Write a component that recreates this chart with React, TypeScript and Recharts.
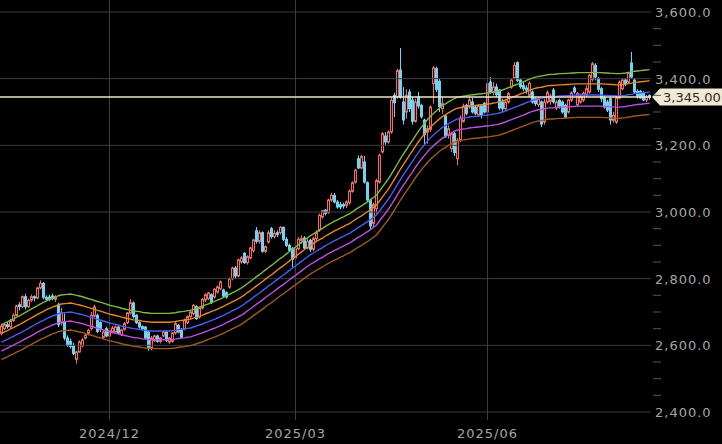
import { ComposedChart, Bar, Line, XAxis, YAxis, ReferenceLine } from "recharts";

// daily candles, oldest first (one per trading day)
const opens = [
  2636, 2650, 2662, 2656, 2674, 2690, 2722, 2716, 2746, 2716, 2735, 2746, 2742, 2772, 2786, 2744, 2745, 2748, 2738, 2721,
  2667, 2670, 2622, 2612, 2600, 2558, 2580, 2598, 2622, 2636, 2650, 2688, 2690, 2668, 2624, 2650, 2628, 2640, 2640, 2655,
  2632, 2648, 2668, 2697, 2727, 2690, 2668, 2656, 2655, 2640, 2592, 2614, 2628, 2612, 2628, 2640, 2610, 2612, 2637, 2660,
  2648, 2650, 2668, 2686, 2695, 2716, 2685, 2712, 2736, 2740, 2752, 2745, 2760, 2770, 2766, 2758, 2775, 2800, 2832, 2808,
  2850, 2876, 2848, 2862, 2884, 2944, 2912, 2938, 2882, 2910, 2950, 2926, 2938, 2938, 2954, 2918, 2900, 2890, 2862, 2890,
  2915, 2922, 2892, 2915, 2888, 2920, 2946, 2985, 3006, 2998, 3036, 3050, 3030, 3022, 3022, 3020, 3028, 3062, 3090, 3160,
  3132, 3150, 3088, 3036, 2966, 3010, 3090, 3180, 3228, 3210, 3240, 3350, 3345, 3426, 3330, 3300, 3360, 3336, 3272, 3345,
  3320, 3276, 3240, 3248, 3385, 3430, 3392, 3310, 3288, 3230, 3190, 3235, 3160, 3216, 3272, 3320, 3315, 3330, 3315, 3292,
  3318, 3326, 3300, 3390, 3360, 3375, 3366, 3330, 3310, 3330, 3375, 3402, 3448, 3396, 3380, 3372, 3350, 3360, 3340, 3322,
  3330, 3270, 3330, 3332, 3366, 3312, 3335, 3330, 3320, 3300, 3336, 3372, 3322, 3330, 3336, 3350, 3360, 3398, 3440, 3400,
  3370, 3342, 3330, 3340, 3275, 3270, 3342, 3370, 3396, 3390, 3447, 3396, 3362, 3362, 3357, 3336, 3350,
];
const highs = [
  2665, 2668, 2670, 2680, 2696, 2722, 2730, 2750, 2755, 2740, 2752, 2750, 2775, 2795, 2790, 2750, 2752, 2755, 2750, 2728,
  2712, 2696, 2630, 2620, 2608, 2584, 2615, 2622, 2635, 2650, 2700, 2722, 2695, 2672, 2645, 2656, 2650, 2658, 2660, 2658,
  2650, 2670, 2700, 2738, 2732, 2694, 2672, 2660, 2658, 2645, 2628, 2632, 2632, 2625, 2644, 2644, 2625, 2640, 2670, 2664,
  2652, 2680, 2690, 2704, 2724, 2720, 2716, 2742, 2756, 2760, 2756, 2772, 2780, 2795, 2770, 2762, 2804, 2836, 2838, 2860,
  2868, 2880, 2870, 2896, 2920, 2955, 2945, 2942, 2900, 2945, 2955, 2945, 2945, 2958, 2956, 2925, 2905, 2895, 2898, 2925,
  2930, 2928, 2920, 2920, 2925, 2945, 2995, 3006, 3008, 3040, 3058, 3057, 3036, 3030, 3028, 3035, 3068, 3092, 3130, 3170,
  3172, 3168, 3092, 3040, 3028, 3100, 3175, 3240, 3240, 3245, 3345, 3358, 3430, 3492, 3375, 3368, 3368, 3345, 3340, 3360,
  3325, 3280, 3260, 3320, 3438, 3436, 3400, 3345, 3292, 3260, 3240, 3240, 3222, 3290, 3325, 3325, 3345, 3342, 3320, 3325,
  3322, 3330, 3390, 3405, 3390, 3385, 3368, 3340, 3335, 3360, 3400, 3450, 3452, 3400, 3392, 3380, 3392, 3365, 3345, 3345,
  3335, 3340, 3365, 3355, 3372, 3335, 3340, 3335, 3325, 3340, 3362, 3378, 3360, 3355, 3362, 3380, 3415, 3450, 3446, 3405,
  3375, 3348, 3336, 3345, 3300, 3348, 3395, 3400, 3402, 3420, 3480, 3400, 3368, 3366, 3362, 3352, 3352,
];
const lows = [
  2630, 2645, 2650, 2652, 2670, 2688, 2705, 2712, 2708, 2712, 2730, 2732, 2738, 2768, 2738, 2732, 2732, 2735, 2730, 2655,
  2660, 2615, 2595, 2590, 2570, 2545, 2578, 2594, 2618, 2630, 2645, 2684, 2636, 2640, 2618, 2624, 2622, 2636, 2635, 2632,
  2628, 2644, 2664, 2692, 2680, 2664, 2650, 2645, 2618, 2584, 2585, 2610, 2608, 2606, 2624, 2610, 2604, 2608, 2632, 2636,
  2620, 2645, 2664, 2680, 2690, 2676, 2680, 2708, 2730, 2736, 2724, 2740, 2755, 2765, 2742, 2740, 2770, 2795, 2800, 2804,
  2845, 2844, 2842, 2858, 2878, 2905, 2905, 2878, 2876, 2905, 2920, 2920, 2925, 2932, 2912, 2895, 2880, 2835, 2856, 2885,
  2905, 2886, 2888, 2880, 2882, 2912, 2940, 2980, 2990, 2995, 3030, 3026, 3010, 3008, 3010, 3012, 3022, 3058, 3085, 3128,
  3128, 3085, 3030, 2946, 2955, 2995, 3085, 3176, 3200, 3205, 3235, 3285, 3340, 3340, 3262, 3280, 3300, 3262, 3268, 3310,
  3280, 3200, 3205, 3240, 3325, 3360, 3300, 3295, 3222, 3220, 3180, 3168, 3140, 3210, 3268, 3290, 3310, 3295, 3290, 3285,
  3280, 3295, 3295, 3355, 3350, 3345, 3305, 3300, 3305, 3325, 3370, 3398, 3390, 3370, 3362, 3355, 3345, 3325, 3318, 3315,
  3255, 3262, 3325, 3322, 3325, 3305, 3310, 3295, 3280, 3295, 3330, 3355, 3315, 3325, 3330, 3345, 3355, 3392, 3395, 3360,
  3330, 3310, 3300, 3262, 3268, 3264, 3338, 3365, 3378, 3385, 3400, 3355, 3340, 3340, 3332, 3330, 3336,
];
const closes = [
  2658, 2662, 2656, 2674, 2690, 2718, 2716, 2746, 2716, 2735, 2746, 2742, 2772, 2786, 2744, 2738, 2738, 2740, 2746, 2662,
  2697, 2622, 2600, 2596, 2575, 2580, 2610, 2616, 2630, 2645, 2690, 2715, 2642, 2648, 2640, 2628, 2645, 2652, 2655, 2637,
  2646, 2665, 2697, 2728, 2686, 2668, 2655, 2650, 2622, 2592, 2622, 2628, 2612, 2622, 2640, 2615, 2622, 2637, 2665, 2640,
  2624, 2676, 2686, 2700, 2720, 2680, 2712, 2738, 2752, 2757, 2728, 2768, 2775, 2790, 2748, 2745, 2800, 2832, 2808, 2856,
  2862, 2848, 2866, 2892, 2916, 2912, 2938, 2882, 2896, 2938, 2926, 2936, 2932, 2954, 2918, 2900, 2885, 2858, 2890, 2918,
  2920, 2892, 2912, 2888, 2920, 2938, 2990, 3004, 2996, 3036, 3050, 3030, 3015, 3015, 3018, 3030, 3062, 3088, 3125, 3132,
  3166, 3090, 3036, 2958, 3022, 3094, 3170, 3235, 3210, 3240, 3335, 3328, 3424, 3345, 3276, 3350, 3310, 3272, 3330, 3318,
  3286, 3232, 3250, 3315, 3432, 3368, 3316, 3325, 3228, 3250, 3235, 3178, 3215, 3282, 3318, 3296, 3336, 3300, 3296, 3318,
  3290, 3300, 3385, 3360, 3375, 3352, 3312, 3310, 3330, 3355, 3396, 3440, 3395, 3376, 3370, 3366, 3386, 3330, 3325, 3340,
  3264, 3330, 3358, 3348, 3330, 3330, 3318, 3300, 3285, 3336, 3357, 3360, 3355, 3348, 3356, 3370, 3410, 3445, 3405, 3368,
  3340, 3315, 3306, 3276, 3290, 3342, 3390, 3396, 3385, 3417, 3405, 3360, 3348, 3342, 3336, 3345, 3345,
];
// centre moving average (blue line)
const maLine = [
  2609, 2614, 2618, 2623, 2627, 2632, 2636, 2641, 2646, 2651, 2656, 2661, 2666, 2671, 2675, 2680, 2684, 2688, 2691, 2695,
  2697, 2698, 2699, 2700, 2698, 2696, 2694, 2692, 2689, 2686, 2684, 2681, 2678, 2676, 2673, 2670, 2667, 2665, 2663, 2661,
  2658, 2656, 2654, 2652, 2650, 2649, 2648, 2646, 2645, 2644, 2643, 2643, 2643, 2643, 2643, 2643, 2643, 2644, 2645, 2647,
  2648, 2649, 2651, 2652, 2655, 2658, 2661, 2664, 2668, 2671, 2675, 2678, 2682, 2686, 2690, 2695, 2699, 2704, 2708, 2713,
  2718, 2724, 2731, 2737, 2744, 2751, 2757, 2764, 2771, 2778, 2784, 2791, 2798, 2805, 2811, 2818, 2825, 2832, 2838, 2845,
  2852, 2859, 2865, 2872, 2877, 2883, 2888, 2893, 2899, 2904, 2909, 2914, 2918, 2923, 2927, 2932, 2936, 2942, 2948, 2954,
  2959, 2965, 2971, 2977, 2984, 2991, 3003, 3015, 3027, 3039, 3053, 3068, 3083, 3098, 3112, 3125, 3139, 3152, 3166, 3179,
  3191, 3202, 3213, 3223, 3231, 3239, 3247, 3254, 3259, 3265, 3270, 3275, 3279, 3280, 3282, 3283, 3285, 3286, 3287, 3288,
  3289, 3290, 3291, 3292, 3294, 3295, 3297, 3300, 3303, 3307, 3310, 3314, 3317, 3321, 3324, 3328, 3332, 3335, 3338, 3340,
  3341, 3343, 3345, 3346, 3346, 3347, 3348, 3348, 3349, 3349, 3350, 3350, 3351, 3351, 3351, 3351, 3351, 3351, 3351, 3351,
  3351, 3350, 3350, 3349, 3349, 3348, 3348, 3349, 3350, 3352, 3353, 3355, 3356, 3357, 3358, 3359, 3360,
];

// envelope around the average, in percent
const envelopePct = [2, 1, -1, -2];
const bandKeys = ["up2", "up1", "dn1", "dn2"];

const monthTicks = [36, 98, 162];
const monthLabels = ["2024/12", "2025/03", "2025/06"];
const priceGrid = [2400, 2600, 2800, 3000, 3200, 3400, 3600];
const priceTicks = [
  2400, 2450, 2500, 2550, 2600, 2650, 2700, 2750, 2800, 2850, 2900, 2950, 3000,
  3050, 3100, 3150, 3200, 3250, 3300, 3350, 3400, 3450, 3500, 3550, 3600,
];
const lastPrice = 3345;

const rows = closes.map((c, i) => {
  const row: any = {
    i,
    open: opens[i],
    high: highs[i],
    low: lows[i],
    close: c,
    range: [lows[i], highs[i]],
    ma: maLine[i],
  };
  bandKeys.forEach((k, j) => {
    row[k] = Math.round(maLine[i] * (1 + envelopePct[j] / 100) * 10) / 10;
  });
  return row;
});

const FONT = "'DejaVu Sans', sans-serif";
const UP = "#ec7068";
const DOWN = "#72d2f2";

const Candle = (props: any) => {
  const { x, y, width, height, payload } = props;
  const { open, close, high, low } = payload;
  const span = high - low || 1;
  const py = (v: number) => y + ((high - v) / span) * height;
  const cx = x + width / 2;
  const top = py(Math.max(open, close));
  const bot = py(Math.min(open, close));
  const up = close >= open;
  const color = up ? UP : DOWN;
  return (
    <g>
      <line x1={cx} x2={cx} y1={y} y2={y + height} stroke={color} strokeWidth={1} />
      {up ? (
        <rect x={cx - 1} y={top} width={2} height={Math.max(bot - top, 1)} fill="#240808" stroke={color} strokeWidth={1} />
      ) : (
        <rect x={cx - 1.5} y={top - 0.5} width={3} height={Math.max(bot - top + 1, 1.5)} fill={color} />
      )}
    </g>
  );
};

const PriceTick = (props: any) => {
  const { y, payload } = props;
  const v = payload.value;
  if (v % 200 === 0) {
    return (
      <text x={655} y={y + 5} fill="#a6a6a6" fontSize={13} fontFamily={FONT} letterSpacing={1}>
        {v.toLocaleString("en-US", { minimumFractionDigits: 1 })}
      </text>
    );
  }
  return <line x1={653} x2={661} y1={y} y2={y} stroke="#55555d" strokeWidth={1} />;
};

const DateTick = (props: any) => {
  const { x, payload } = props;
  const k = monthTicks.indexOf(payload.value);
  return (
    <text x={x} y={438} textAnchor="middle" fill="#a6a6a6" fontSize={13} fontFamily={FONT} letterSpacing={1}>
      {monthLabels[k]}
    </text>
  );
};

const PriceTag = (props: any) => {
  const { viewBox } = props;
  const tip = viewBox.x + viewBox.width + 1;
  const yy = viewBox.y;
  return (
    <g>
      <polygon
        points={`${tip},${yy} ${tip + 8},${yy - 8.5} 722,${yy - 8.5} 722,${yy + 8.5} ${tip + 8},${yy + 8.5}`}
        fill="#f2e9d2"
      />
      <text x={tip + 11} y={yy + 5} fill="#2a2a2a" fontSize={13} fontFamily={FONT}>
        {lastPrice.toLocaleString("en-US", { minimumFractionDigits: 2 })}
      </text>
    </g>
  );
};

export default function App() {
  return (
    <div style={{ position: "absolute", left: 0, top: 0, width: 722, height: 444, background: "#000" }}>
      <ComposedChart
        width={722}
        height={444}
        data={rows}
        margin={{ top: 0, right: 0, bottom: 0, left: 0 }}
        barCategoryGap={0}
      >
        <XAxis
          dataKey="i"
          ticks={monthTicks}
          interval={0}
          tickLine={false}
          axisLine={false}
          height={24}
          tick={<DateTick />}
        />
        <YAxis
          orientation="right"
          width={71}
          domain={[2376, 3636]}
          ticks={priceTicks}
          interval={0}
          allowDataOverflow
          tickLine={false}
          axisLine={false}
          tick={<PriceTick />}
        />
        {priceGrid.map((p) => (
          <ReferenceLine key={p} y={p} stroke="#3d3d45" strokeWidth={1} />
        ))}
        {monthTicks.map((m) => (
          <ReferenceLine key={m} x={m} stroke="#3d3d45" strokeWidth={1} />
        ))}
        <Line dataKey="up2" stroke="#7cbb40" strokeWidth={1.4} dot={false} activeDot={false} isAnimationActive={false} />
        <Line dataKey="up1" stroke="#e5882c" strokeWidth={1.4} dot={false} activeDot={false} isAnimationActive={false} />
        <Line dataKey="ma" stroke="#4c5cf0" strokeWidth={1.4} dot={false} activeDot={false} isAnimationActive={false} />
        <Line dataKey="dn1" stroke="#c050e0" strokeWidth={1.4} dot={false} activeDot={false} isAnimationActive={false} />
        <Line dataKey="dn2" stroke="#a05a1c" strokeWidth={1.4} dot={false} activeDot={false} isAnimationActive={false} />
        <Bar dataKey="range" shape={<Candle />} activeBar={false} isAnimationActive={false} />
        <ReferenceLine y={lastPrice} stroke="#efe6cf" strokeWidth={1.5} label={<PriceTag />} />
      </ComposedChart>
    </div>
  );
}
